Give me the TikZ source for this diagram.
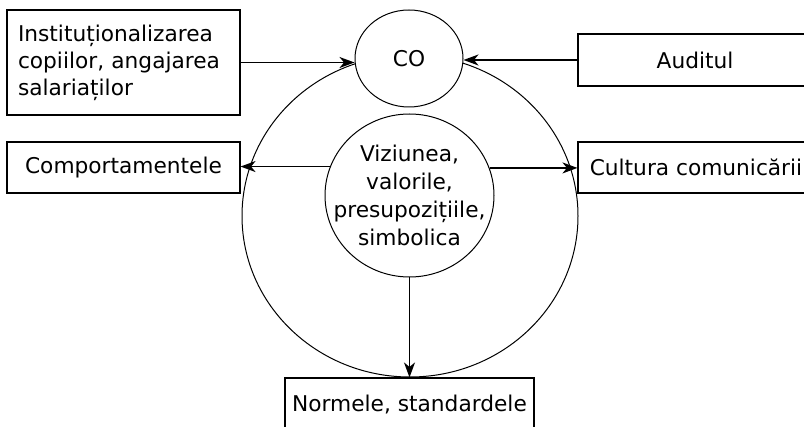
\documentclass[tikz,border=0pt]{standalone}
\usepackage{fontspec}
\setmainfont{DejaVu Sans}
\usetikzlibrary{shapes.geometric,arrows.meta}
\begin{document}
\begin{tikzpicture}[x=1pt,y=-1pt,
  every node/.style={font=\fontsize{21.7}{27}\selectfont},
  box/.style={draw,line width=1.1pt,rectangle,inner sep=0pt},
  oval/.style={draw,line width=1pt,ellipse,inner sep=0pt,fill=white},
  arr/.style={line width=1.6pt,-{Stealth[length=15pt,width=11pt,inset=4.5pt]}}]
\useasboundingbox (0,0) rectangle (804,427);
\clip (0,0) rectangle (804,427);
% big outer ellipse
\node[oval,fill=none,minimum width=336pt,minimum height=322pt] (big) at (410,216) {};
% CO
\node[oval,minimum width=108pt,minimum height=97pt] (co) at (409,58.5) {CO};
% inner
\node[oval,inner sep=-30pt,minimum width=169pt,minimum height=163pt,align=center,
  font=\fontsize{21.7}{28}\selectfont] (inner) at (409.5,195.5)
  {Viziunea,\\valorile,\\presupozițiile,\\simbolica};
% boxes
\node[box,minimum width=233pt,minimum height=105pt,text width=211pt,align=left] (inst) at (123.5,62.5)
  {Instituționalizarea\\copiilor, angajarea\\salariaților};
\node[box,minimum width=234pt,minimum height=52pt] (aud) at (695,60) {Auditul};
\node[box,minimum width=233pt,minimum height=51pt] (comp) at (123.5,167.5) {Comportamentele};
\node[box,minimum width=236pt,minimum height=51pt] (cult) at (696,167.5) {Cultura comunicării};
\node[box,minimum width=249pt,minimum height=54pt] (norm) at (409.5,405) {Normele, standardele};
% connectors
\draw[arr] (inst.east) -- (inst.east -| co.west);
\draw[arr] (aud.west) -- (aud.west -| co.east);
\draw[arr] (inner.160.9) -- (inner.160.9 -| comp.east);
\draw[arr] (inner.19.1) -- (inner.19.1 -| cult.west);
\draw[arr] (inner.south) -- (norm.north);
\end{tikzpicture}
\end{document}
